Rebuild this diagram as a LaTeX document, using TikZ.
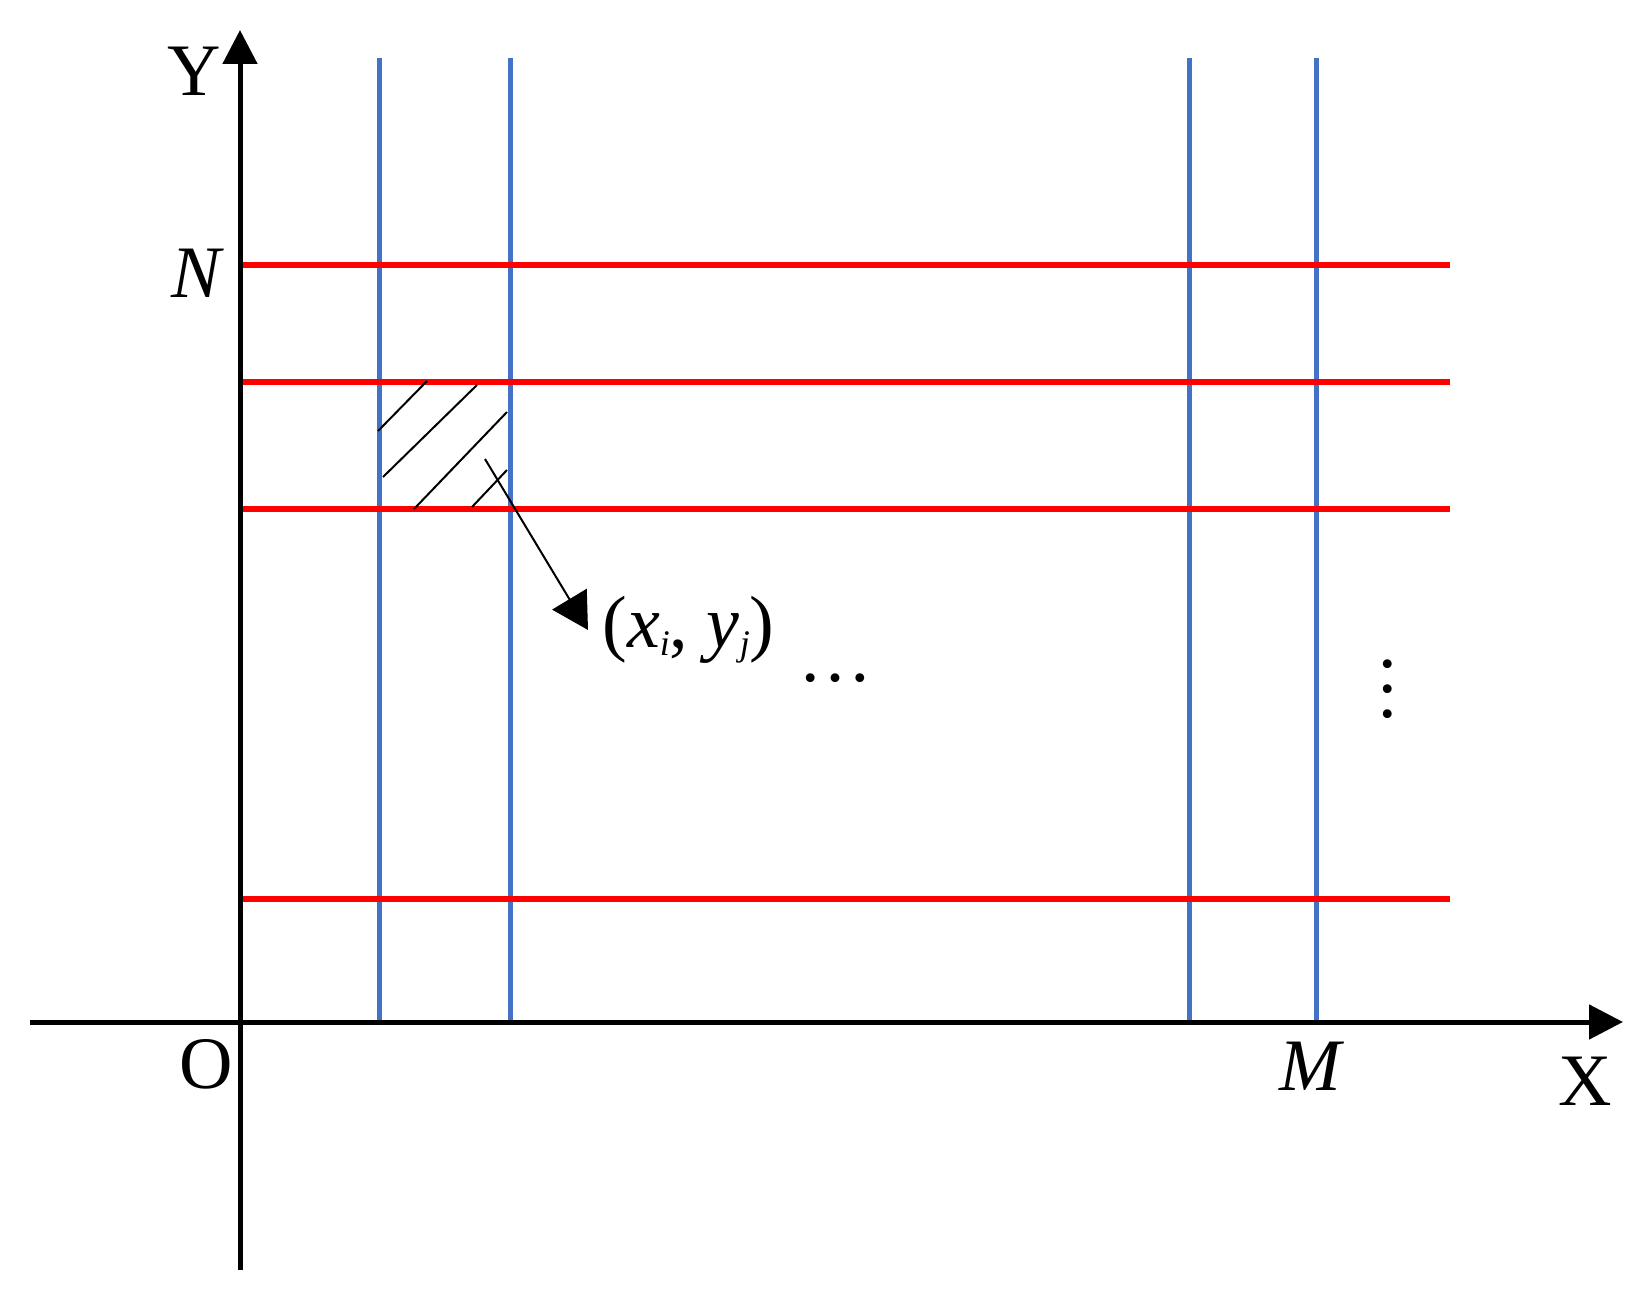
\documentclass[tikz,border=0pt]{standalone}
\usepackage{fontspec}
\setmainfont{Liberation Serif}
\usetikzlibrary{arrows.meta}
\definecolor{gridblue}{HTML}{4472C4}
\definecolor{gridred}{HTML}{FF0000}
\tikzset{
  axis/.style={line width=2.5pt,black,-{Triangle[length=17pt,width=17pt]}},
  vline/.style={line width=2.5pt,gridblue},
  hline/.style={line width=2.6pt,gridred},
  hatchline/.style={line width=1pt,black},
  lbl/.style={inner sep=0pt,font=\fontsize{37}{44}\selectfont},
}
\begin{document}
\begin{tikzpicture}[x=0.5pt,y=-0.5pt]
\useasboundingbox (0,0) rectangle (1650,1299);
% blue vertical lines
\foreach \xx [count=\k] in {379,510,1189,1316}{
  \coordinate (vt\k) at (\xx,58);
  \coordinate (vb\k) at (\xx,1021);
  \draw[vline] (vt\k) -- (vb\k);
}
% red horizontal lines
\foreach \yy [count=\k] in {265,382,509,899}{
  \coordinate (hl\k) at (243,\yy);
  \coordinate (hr\k) at (1450,\yy);
  \draw[hline] (hl\k) -- (hr\k);
}
% axes
\coordinate (ybot) at (240,1270);
\coordinate (ytop) at (240,30);
\coordinate (xleft) at (30,1022);
\coordinate (xright) at (1623,1022);
\draw[axis] (ybot) -- (ytop);
\draw[axis] (xleft) -- (xright);
% hatching
\coordinate (h1a) at (378,431); \coordinate (h1b) at (427,381);
\coordinate (h2a) at (383,477); \coordinate (h2b) at (477,385);
\coordinate (h3a) at (414,509); \coordinate (h3b) at (507,412);
\coordinate (h4a) at (472,507); \coordinate (h4b) at (507,470);
\draw[hatchline] (h1a) -- (h1b);
\draw[hatchline] (h2a) -- (h2b);
\draw[hatchline] (h3a) -- (h3b);
\draw[hatchline] (h4a) -- (h4b);
% pointer arrow
\coordinate (pstart) at (485,459);
\coordinate (ptip) at (588,630);
\draw[line width=1pt,-{Triangle[length=18pt,width=20pt]}] (pstart) -- (ptip);
% labels
\node[lbl] (Y) at (194,71) {Y};
\node[lbl] (X) at (1585,1081) {X};
\node[lbl] (O) at (206,1064) {O};
\node[lbl,font=\fontsize{37}{44}\selectfont\itshape] (N) at (196,273) {N};
\node[lbl,font=\fontsize{37}{44}\selectfont\itshape] (M) at (1310,1066) {M};
\node[lbl,anchor=base west] (pt) at (602,647) {(\textit{x}\raisebox{-0.25ex}{\fontsize{18}{18}\selectfont\itshape i}, \textit{y}\raisebox{-0.25ex}{\fontsize{18}{18}\selectfont\itshape j})};
\node[lbl,anchor=base] (hdots) at (835,681) {…};
\node[lbl] (vdots) at (1388,689) {\vbox{\baselineskip=12.5pt\lineskiplimit=-100pt\hbox{.}\hbox{.}\hbox{.}}};
\end{tikzpicture}
\end{document}
